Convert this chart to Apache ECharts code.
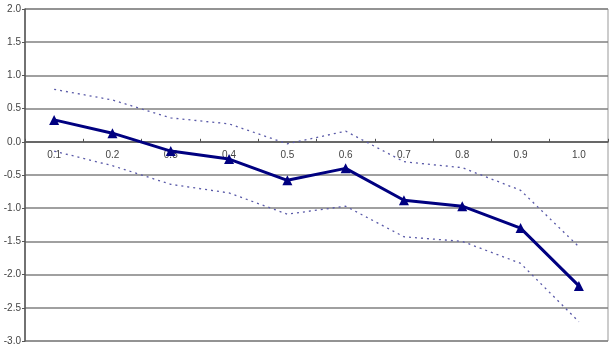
<!DOCTYPE html>
<html>
<head>
<meta charset="utf-8">
<script src="https://cdn.jsdelivr.net/npm/echarts@6/dist/echarts.min.js"></script>
<style>
  html, body { margin: 0; padding: 0; background: #fff; }
  #grafico { width: 612px; height: 345px; }
</style>
</head>
<body>
<div id="grafico"></div>
<script>
const categorias = ['0.1', '0.2', '0.3', '0.4', '0.5', '0.6', '0.7', '0.8', '0.9', '1.0']
const media = [0.33, 0.13, -0.14, -0.26, -0.58, -0.40, -0.88, -0.97, -1.30, -2.17]
const superior = [0.79, 0.63, 0.36, 0.27, -0.03, 0.16, -0.30, -0.39, -0.73, -1.58]
const inferior = [-0.14, -0.36, -0.64, -0.77, -1.09, -0.97, -1.43, -1.50, -1.83, -2.71]

let myChart = echarts.init(document.getElementById('grafico'))

// alto del grid: 345 - 9 - 4 = 332, el cero queda a 2/5 desde arriba
let altoGrid = 332
let offsetCero = -(altoGrid * 3 / 5)

let option = {
  animation: false,
  grid: {
    left: 25,
    right: 4,
    top: 9,
    bottom: 4,
    containLabel: false,
    outerBoundsMode: 'none',
    show: true,
    borderColor: '#999',
    borderWidth: 1
  },
  xAxis: {
    type: 'category',
    data: categorias,
    boundaryGap: true,
    offset: offsetCero,
    axisLine: { onZero: false, lineStyle: { color: '#555', width: 1.5 } },
    axisTick: { show: true, inside: true, length: 3, lineStyle: { color: '#555' } },
    axisLabel: { color: '#444', fontSize: 10, fontFamily: 'Liberation Sans', margin: 8 },
    splitLine: { show: false }
  },
  yAxis: {
    type: 'value',
    min: -3,
    max: 2,
    interval: 0.5,
    axisLine: { show: true, lineStyle: { color: '#555', width: 1.5 } },
    axisTick: { show: true, length: 3, lineStyle: { color: '#555' } },
    axisLabel: {
      color: '#444',
      fontSize: 10,
      fontFamily: 'Liberation Sans',
      margin: 4,
      formatter: v => v.toFixed(1)
    },
    splitLine: { lineStyle: { color: '#808080', width: 1.5 } }
  },
  series: [
    {
      name: 'Superior',
      type: 'line',
      data: superior,
      symbol: 'none',
      lineStyle: { color: '#5a5aa8', width: 1.3, type: [2, 4] }
    },
    {
      name: 'Inferior',
      type: 'line',
      data: inferior,
      symbol: 'none',
      lineStyle: { color: '#5a5aa8', width: 1.3, type: [2, 4] }
    },
    {
      name: 'Media',
      type: 'line',
      data: media,
      symbol: 'triangle',
      symbolSize: 10,
      itemStyle: { color: '#000080' },
      lineStyle: { color: '#000080', width: 3 }
    }
  ]
}

myChart.setOption(option)
</script>
</body>
</html>
